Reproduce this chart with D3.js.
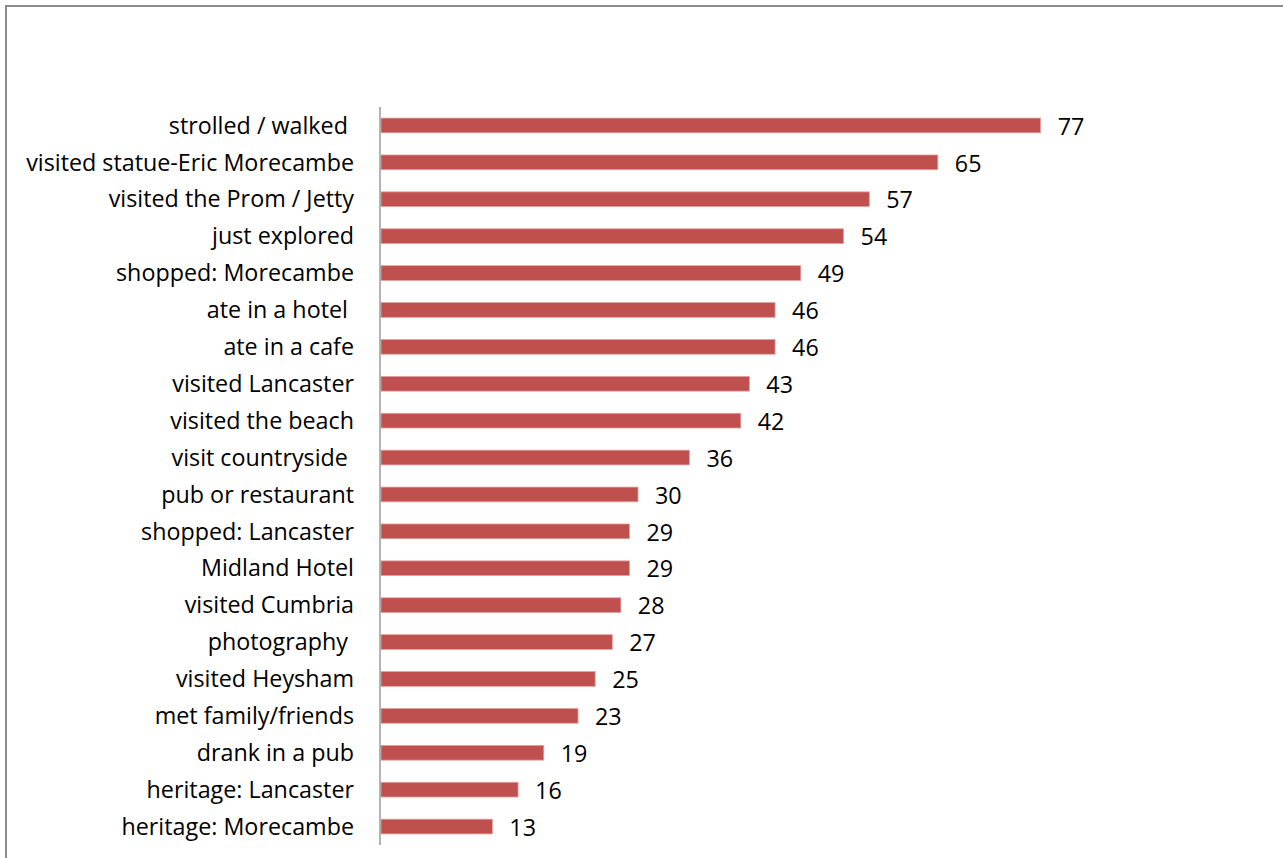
<!DOCTYPE html>
<html>
<head>
<meta charset="utf-8">
<script src="https://cdn.jsdelivr.net/npm/d3@7"></script>
<style>
  html, body { margin: 0; padding: 0; background: #fff; overflow: hidden; }
  svg text { font-family: "Open Sans", Lato, sans-serif; fill: #000; white-space: pre; }
</style>
</head>
<body>
<svg id="chart" width="1283" height="858"></svg>
<script>
// Activities undertaken during the visit (count of respondents)
const categories = [
  "strolled / walked ",
  "visited statue-Eric Morecambe",
  "visited the Prom / Jetty",
  "just explored",
  "shopped: Morecambe",
  "ate in a hotel ",
  "ate in a cafe",
  "visited Lancaster",
  "visited the beach",
  "visit countryside ",
  "pub or restaurant",
  "shopped: Lancaster",
  "Midland Hotel",
  "visited Cumbria",
  "photography ",
  "visited Heysham",
  "met family/friends",
  "drank in a pub",
  "heritage: Lancaster",
  "heritage: Morecambe"
];
const values = [77, 65, 57, 54, 49, 46, 46, 43, 42, 36, 30, 29, 29, 28, 27, 25, 23, 19, 16, 13];
const xDomain = [0, 90];

const svg = d3.select("#chart");

// chart area frame
svg.append("rect")
  .attr("x", 6).attr("y", 6)
  .attr("width", 1290).attr("height", 870)
  .attr("fill", "none")
  .attr("stroke", "#8c8c8c")
  .attr("stroke-width", 2);

const plot = { left: 381, right: 1152, top: 107, bottom: 845 };
const fontSize = 23.3;

const x = d3.scaleLinear().domain(xDomain).range([plot.left, plot.right]);
const y = d3.scaleBand()
  .domain(categories)
  .range([plot.top, plot.bottom])
  .paddingInner(0.6)
  .paddingOuter(0.3);

// bars
svg.append("g")
  .selectAll("rect")
  .data(values)
  .join("rect")
  .attr("x", x(0))
  .attr("y", (d, i) => y(categories[i]))
  .attr("width", d => x(d) - x(0))
  .attr("height", y.bandwidth())
  .attr("fill", "#c0504d")
  .attr("stroke", "#e3a3a1")
  .attr("stroke-width", 0.8);

// category axis
const yAxis = d3.axisLeft(y).tickSize(0).tickPadding(26);
const ga = svg.append("g")
  .attr("transform", `translate(${plot.left - 1},0)`)
  .call(yAxis);
ga.select(".domain")
  .attr("d", `M0,${plot.top}V${plot.bottom}`)
  .attr("stroke", "#8c8c8c")
  .attr("stroke-width", 1.3);
ga.selectAll("text")
  .attr("font-size", fontSize)
  .attr("font-family", "'Open Sans', Lato, sans-serif")
  .attr("dy", "0.35em");

// value labels
svg.append("g")
  .selectAll("text")
  .data(values)
  .join("text")
  .attr("x", d => x(d) + 17)
  .attr("y", (d, i) => y(categories[i]) + y.bandwidth() / 2 + 1)
  .attr("dy", "0.35em")
  .attr("font-size", fontSize)
  .text(d => d);
</script>
</body>
</html>
